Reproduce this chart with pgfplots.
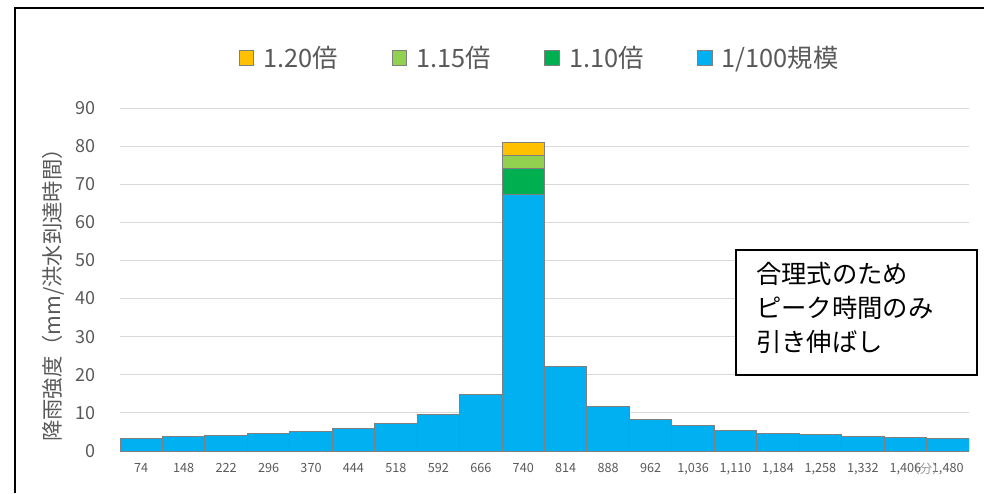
\documentclass[border=0pt]{standalone}
\usepackage{fontspec}
\setmainfont{Noto Sans CJK JP}
\usepackage{pgfplots}
\pgfplotsset{compat=1.18}

\definecolor{txtgray}{HTML}{595959}
\definecolor{gridgray}{HTML}{D9D9D9}
\definecolor{edgegray}{HTML}{7F7F7F}
\definecolor{cBlue}{HTML}{00B0F0}
\definecolor{cDkGreen}{HTML}{00B050}
\definecolor{cLtGreen}{HTML}{92D050}
\definecolor{cYellow}{HTML}{FFC000}

\begin{document}
\begin{tikzpicture}
\useasboundingbox (0,0) rectangle (738pt,369.75pt);

% outer frame (left and top edges)
\draw[line width=1.5pt, black] (11.6pt,0) -- (11.6pt,363.75pt) -- (738pt,363.75pt);

\begin{axis}[
  at={(90pt,31.5pt)}, anchor=south west,
  scale only axis,
  width=636.75pt, height=257.25pt,
  xmin=0.5, xmax=20.5,
  ymin=0, ymax=90,
  ytick={0,10,...,90},
  yticklabels={0,10,20,30,40,50,60,70,80,90},
  xtick={1,...,20},
  xticklabels={74,148,222,296,370,444,518,592,666,740,814,888,962,{1,036},{1,110},{1,184},{1,258},{1,332},{1,406},{1,480}},
  /pgf/number format/assume math mode=true,
  ymajorgrids,
  grid style={gridgray, line width=0.75pt},
  axis line style={draw=none},
  tick style={draw=none},
  major tick length=0pt,
  yticklabel style={font=\fontsize{13.5pt}{15pt}\selectfont, text=txtgray, anchor=east, inner sep=0pt, xshift=-18.5pt},
  xticklabel style={font=\fontsize{9.5pt}{11pt}\selectfont, text=txtgray, anchor=north, inner sep=0pt, yshift=-9pt},
  ybar, bar width=1, bar shift=0pt,
  legend columns=4,
  legend style={draw=none, fill=none, at={(0.4947,1.146)}, anchor=center,
    font=\fontsize{19pt}{21pt}\selectfont, text=txtgray,
    /tikz/every even column/.append style={column sep=38pt},
    /tikz/column sep=5pt},
  legend image code/.code={\draw[#1, draw=edgegray, line width=0.6pt] (0pt,-5.5pt) rectangle (11pt,5.5pt);},
  every axis plot/.append style={draw=edgegray, line width=0.75pt},
]
% peak bar scaled by 1.20, 1.15, 1.10 (drawn tallest first so they read as a stack)
\addplot[fill=cYellow]  coordinates {(10,80.9)};
\addlegendentry{1.20倍}
\addplot[fill=cLtGreen] coordinates {(10,77.5)};
\addlegendentry{1.15倍}
\addplot[fill=cDkGreen] coordinates {(10,74.1)};
\addlegendentry{1.10倍}
% 1/100 design hyetograph
\addplot[fill=cBlue] coordinates {
  (1,3.3) (2,3.7) (3,4.0) (4,4.5) (5,5.0) (6,6.0) (7,7.3) (8,9.7) (9,14.9) (10,67.4)
  (11,22.1) (12,11.6) (13,8.3) (14,6.6) (15,5.4) (16,4.7) (17,4.3) (18,3.8) (19,3.5) (20,3.2)};
\addlegendentry{1/100規模}
\end{axis}

% y-axis title
\node[rotate=90, text=txtgray, font=\fontsize{16pt}{18pt}\selectfont] at (39.75pt,152.25pt) {降雨強度（mm/洪水到達時間）};

% unit of the x axis
\node[text=gray!80, font=\fontsize{9.5pt}{11pt}\selectfont, inner sep=0pt] at (694.5pt,18pt) {（分）};

% note box
\draw[line width=1.1pt, black, fill=white] (552pt,88.5pt) rectangle (732.75pt,182.25pt);
\begin{scope}[every node/.style={anchor=west, inner sep=0pt, font=\fontsize{19pt}{21pt}\selectfont}]
\node at (567pt,164pt) {合理式のため};
\node at (567pt,138.5pt) {ピーク時間のみ};
\node at (567pt,113.5pt) {引き伸ばし};
\end{scope}
\end{tikzpicture}
\end{document}
